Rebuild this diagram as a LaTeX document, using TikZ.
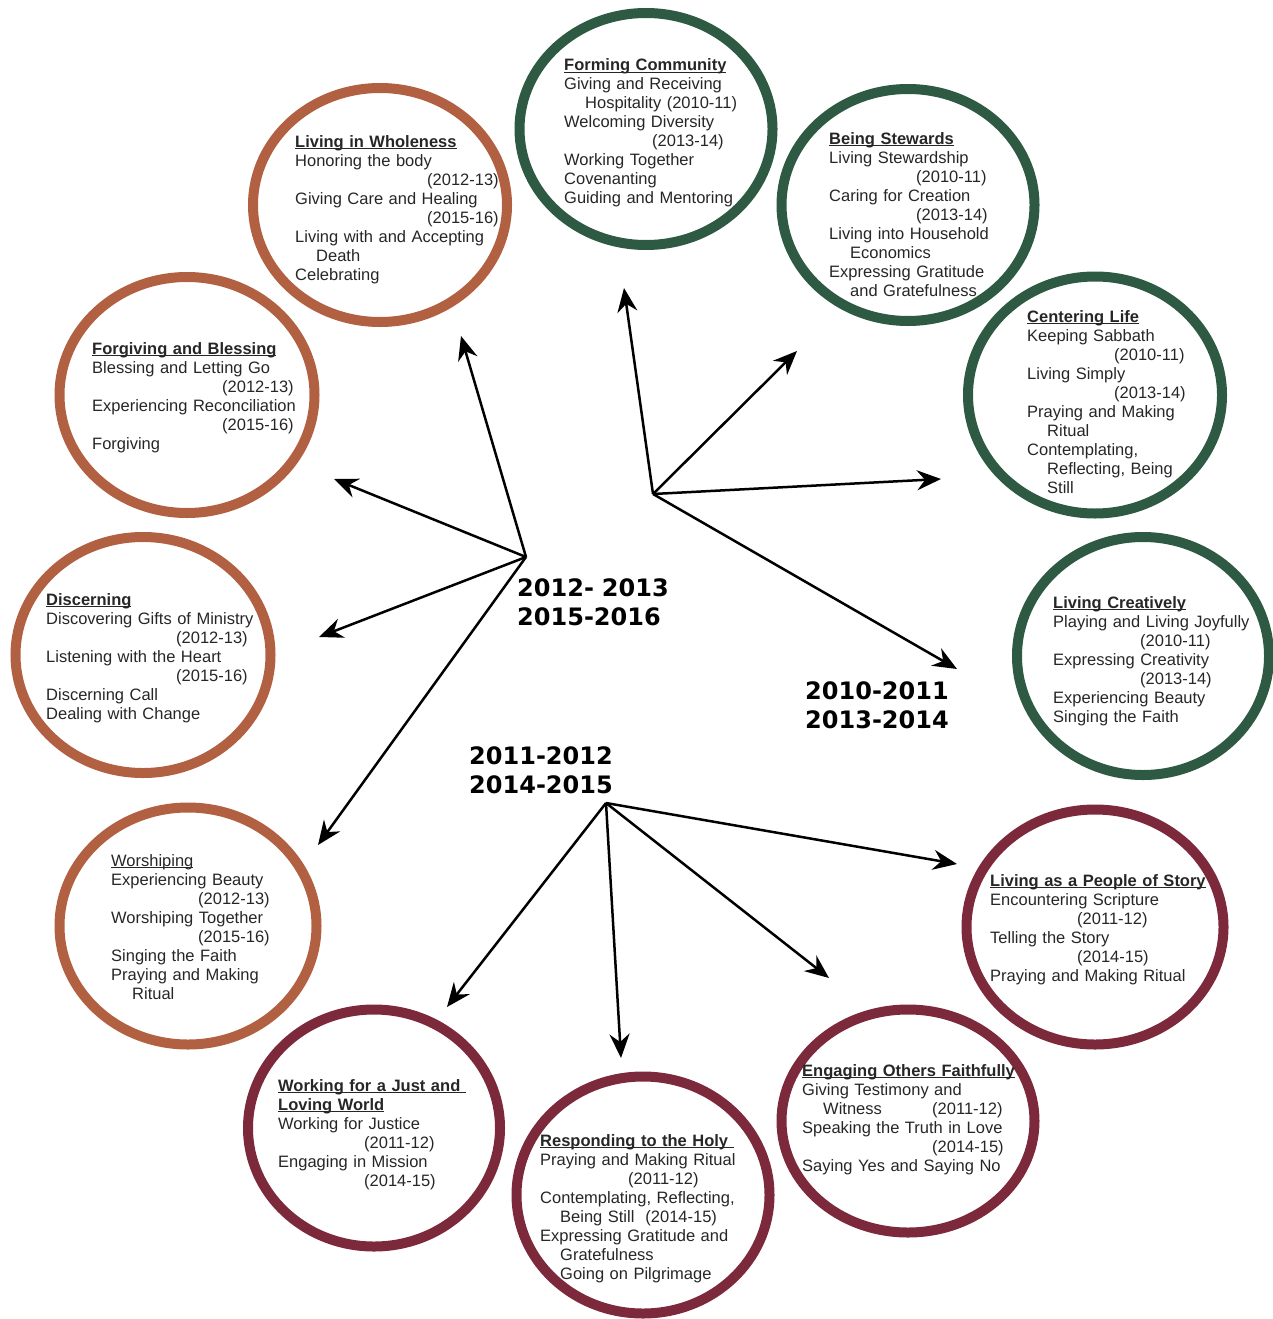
\documentclass[tikz,border=0pt]{standalone}
\usepackage{fontspec}
\setmainfont{Liberation Sans}
\newfontfamily\yearfont{DejaVu Sans}
\usetikzlibrary{arrows.meta,shapes.geometric,positioning}
\definecolor{ringgreen}{RGB}{46,89,67}
\definecolor{ringbrown}{RGB}{178,96,66}
\definecolor{ringred}{RGB}{124,41,59}
\newcommand{\headline}[1]{\leavevmode\setbox0\hbox{#1}\rlap{\rule[-2.2pt]{\wd0}{1.2pt}}\box0}
\tikzset{
    ring/.style={
        ellipse,
        draw=#1,
        line width=10pt,
        inner sep=0pt,
    },
    ringtext/.style={
        anchor=base west,
        inner sep=0pt,
        text width=270pt,
        align=left,
        text=black!85,
        font=\fontsize{16.5}{19}\selectfont,
   },
    yearlabel/.style={
        anchor=base west,
        inner sep=0pt,
        text width=200pt,
        align=left,
        font=\yearfont\bfseries\fontsize{24}{29}\selectfont,
   },
    every edge/.style={
        draw,
        -{Stealth[length=24pt,width=20pt,inset=8pt]},
        line width=2.5pt
    },
  }

\begin{document}
\begin{tikzpicture}[x=1pt,y=-1pt]
              \useasboundingbox (0,0) rectangle (1273,1319);

              % rings
              \node [ring=ringgreen, minimum width=253pt, minimum height=232pt] (forming) at (646,129) {};
              \node [ring=ringgreen, minimum width=253pt, minimum height=232pt] (stewards) at (908,205) {};
              \node [ring=ringgreen, minimum width=254pt, minimum height=237pt] (centering) at (1095,395) {};
              \node [ring=ringgreen, minimum width=252pt, minimum height=238pt] (creative) at (1143,656) {};
              \node [ring=ringred, minimum width=257pt, minimum height=235pt] (story) at (1095,927) {};
              \node [ring=ringred, minimum width=253pt, minimum height=223pt] (engaging) at (908,1121) {};
              \node [ring=ringred, minimum width=253pt, minimum height=237pt] (holy) at (643,1195) {};
              \node [ring=ringred, minimum width=252pt, minimum height=237pt] (justice) at (374,1128) {};
              \node [ring=ringbrown, minimum width=257pt, minimum height=237pt] (worship) at (188,926) {};
              \node [ring=ringbrown, minimum width=255pt, minimum height=236pt] (discern) at (143,655) {};
              \node [ring=ringbrown, minimum width=255pt, minimum height=236pt] (forgive) at (187,395) {};
              \node [ring=ringbrown, minimum width=254pt, minimum height=234pt] (whole) at (380,205) {};

              % texts
              \node [ringtext] (forming-t) at (564,71) {\headline{\textbf{Forming Community}}\\
                Giving and Receiving\\ \hspace*{21pt}Hospitality (2010-11)\\
                Welcoming Diversity\\ \hspace*{88pt}(2013-14)\\
                Working Together\\ Covenanting\\ Guiding and Mentoring};
              \node [ringtext] (stewards-t) at (829,144) {\headline{\textbf{Being Stewards}}\\
                Living Stewardship\\ \hspace*{87pt}(2010-11)\\
                Caring for Creation\\ \hspace*{87pt}(2013-14)\\
                Living into Household\\ \hspace*{21pt}Economics\\
                Expressing Gratitude\\ \hspace*{21pt}and Gratefulness};
              \node [ringtext] (centering-t) at (1027,322) {\headline{\textbf{Centering Life}}\\
                Keeping Sabbath\\ \hspace*{87pt}(2010-11)\\
                Living Simply\\ \hspace*{87pt}(2013-14)\\
                Praying and Making\\ \hspace*{20pt}Ritual\\
                Contemplating,\\ \hspace*{20pt}Reflecting, Being\\ \hspace*{20pt}Still};
              \node [ringtext] (creative-t) at (1053,608) {\headline{\textbf{Living Creatively}}\\
                Playing and Living Joyfully\\ \hspace*{87pt}(2010-11)\\
                Expressing Creativity\\ \hspace*{87pt}(2013-14)\\
                Experiencing Beauty\\ Singing the Faith};
              \node [ringtext] (story-t) at (990,886) {\headline{\textbf{Living as a People of Story}}\\
                Encountering Scripture\\ \hspace*{87pt}(2011-12)\\
                Telling the Story\\ \hspace*{87pt}(2014-15)\\
                Praying and Making Ritual};
              \node [ringtext] (engaging-t) at (802,1076) {\headline{\textbf{Engaging Others Faithfully}}\\
                Giving Testimony and\\ \hspace*{21pt}\makebox[109pt][l]{Witness}(2011-12)\\
                Speaking the Truth in Love\\ \hspace*{130pt}(2014-15)\\
                Saying Yes and Saying No};
              \node [ringtext] (holy-t) at (540,1146) {\headline{\textbf{Responding to the Holy\ }}\\
                Praying and Making Ritual\\ \hspace*{88pt}(2011-12)\\
                Contemplating, Reflecting,\\ \hspace*{20pt}Being Still\ \ (2014-15)\\
                Expressing Gratitude and\\ \hspace*{20pt}Gratefulness\\
                \hspace*{20pt}Going on Pilgrimage};
              \node [ringtext] (justice-t) at (278,1091) {\headline{\textbf{Working for a Just and\ }}\\
                \headline{\textbf{Loving World}}\\
                Working for Justice\\ \hspace*{86pt}(2011-12)\\
                Engaging in Mission\\ \hspace*{86pt}(2014-15)};
              \node [ringtext] (worship-t) at (111,866) {\headline{Worshiping}\\
                Experiencing Beauty\\ \hspace*{87pt}(2012-13)\\
                Worshiping Together\\ \hspace*{87pt}(2015-16)\\
                Singing the Faith\\ Praying and Making\\ \hspace*{21pt}Ritual};
              \node [ringtext] (discern-t) at (46,605) {\headline{\textbf{Discerning}}\\
                Discovering Gifts of Ministry\\ \hspace*{130pt}(2012-13)\\
                Listening with the Heart\\ \hspace*{130pt}(2015-16)\\
                Discerning Call\\ Dealing with Change};
              \node [ringtext] (forgive-t) at (92,354) {\headline{\textbf{Forgiving and Blessing}}\\
                Blessing and Letting Go\\ \hspace*{130pt}(2012-13)\\
                Experiencing Reconciliation\\ \hspace*{130pt}(2015-16)\\
                Forgiving};
              \node [ringtext] (whole-t) at (295,147) {\headline{\textbf{Living in Wholeness}}\\
                Honoring the body\\ \hspace*{132pt}(2012-13)\\
                Giving Care and Healing\\ \hspace*{132pt}(2015-16)\\
                Living with and Accepting\\ \hspace*{21pt}Death\\ Celebrating};

              % year hubs
              \coordinate (h1215) at (526,557);
              \coordinate (h1013) at (653,494);
              \coordinate (h1114) at (606,803);
              \node [yearlabel] (y1215) at (517,596) {2012- 2013\\2015-2016};
              \node [yearlabel] (y1013) at (805,699) {2010-2011\\2013-2014};
              \node [yearlabel] (y1114) at (469,764) {2011-2012\\2014-2015};

              % arrow ends
              \coordinate (a-whole) at (461,336);
              \coordinate (a-forgive) at (334,479);
              \coordinate (a-discern) at (319,637);
              \coordinate (a-worship) at (318,845);
              \coordinate (a-forming) at (624,288);
              \coordinate (a-stewards) at (797,351);
              \coordinate (a-centering) at (941,479);
              \coordinate (a-creative) at (957,669);
              \coordinate (a-justice) at (447,1007);
              \coordinate (a-holy) at (621,1058);
              \coordinate (a-engaging) at (829,978);
              \coordinate (a-story) at (957,864);

              \draw (h1215) edge (a-whole) edge (a-forgive) edge (a-discern) edge (a-worship);
              \draw (h1013) edge (a-forming) edge (a-stewards) edge (a-centering) edge (a-creative);
              \draw (h1114) edge (a-justice) edge (a-holy) edge (a-engaging) edge (a-story);
            \end{tikzpicture}
\end{document}
